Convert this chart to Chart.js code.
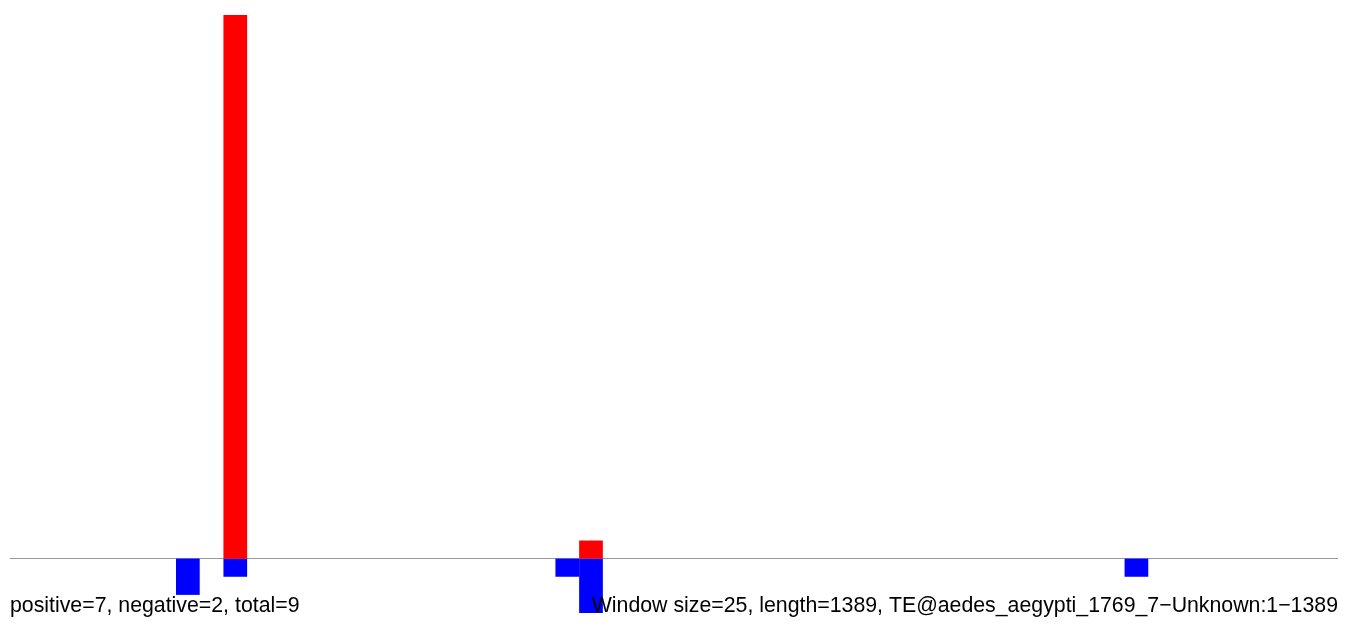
<!DOCTYPE html>
<html>
<head>
<meta charset="utf-8">
<script src="https://cdn.jsdelivr.net/npm/chart.js@4/dist/chart.umd.min.js"></script>
<style>
  html, body { margin: 0; padding: 0; background: #fff; }
  #chart { display: block; }
</style>
</head>
<body>
<canvas id="chart" width="1350" height="624"></canvas>
<script>
// window size 25 over a 1389 bp sequence -> 56 windows
const windowSize = 25;
const seqLength = 1389;
const windowStarts = Array.from({ length: 56 }, (_, i) => i * windowSize + 1);

// reads on the plus strand per window (drawn up, red)
const positiveCounts = [
    0, 0, 0, 0, 0, 0, 0, 0, 0, 30,
    0, 0, 0, 0, 0, 0, 0, 0, 0, 0,
    0, 0, 0, 0, 1, 0, 0, 0, 0, 0,
    0, 0, 0, 0, 0, 0, 0, 0, 0, 0,
    0, 0, 0, 0, 0, 0, 0, 0, 0, 0,
    0, 0, 0, 0, 0, 0
];

// reads on the minus strand per window (drawn down, blue)
const negativeCounts = [
    0, 0, 0, 0, 0, 0, 0, -2, 0, -1,
    0, 0, 0, 0, 0, 0, 0, 0, 0, 0,
    0, 0, 0, -1, -3, 0, 0, 0, 0, 0,
    0, 0, 0, 0, 0, 0, 0, 0, 0, 0,
    0, 0, 0, 0, 0, 0, 0, -1, 0, 0,
    0, 0, 0, 0, 0, 0
];

const leftLabel = 'positive=7, negative=2, total=9';
const rightLabel = 'Window size=25, length=1389, TE@aedes_aegypti_1769_7\u2212Unknown:1\u22121389';

// grey zero line under the bars
const baselinePlugin = {
    id: 'baseline',
    beforeDatasetsDraw(chart) {
        const { ctx, chartArea } = chart;
        const y = Math.floor(chart.scales.y.getPixelForValue(0)) + 0.5;
        ctx.save();
        ctx.strokeStyle = '#999999';
        ctx.lineWidth = 1;
        ctx.beginPath();
        ctx.moveTo(chartArea.left, y);
        ctx.lineTo(chartArea.right, y);
        ctx.stroke();
        ctx.restore();
    }
};

// the two captions on the bottom line, drawn over the bars
const captionPlugin = {
    id: 'captions',
    afterDraw(chart) {
        const { ctx, chartArea } = chart;
        ctx.save();
        ctx.fillStyle = '#000';
        ctx.font = '21.3px "Liberation Sans", Arial, sans-serif';
        ctx.textBaseline = 'alphabetic';
        ctx.textAlign = 'left';
        ctx.fillText(leftLabel, chartArea.left, 612);
        ctx.textAlign = 'right';
        ctx.fillText(rightLabel, chartArea.right, 612);
        ctx.restore();
    }
};

new Chart(document.getElementById('chart'), {
    type: 'bar',
    data: {
        labels: windowStarts,
        datasets: [
            {
                label: 'positive',
                data: positiveCounts,
                backgroundColor: '#ff0000',
                borderWidth: 0
            },
            {
                label: 'negative',
                data: negativeCounts,
                backgroundColor: '#0000ff',
                borderWidth: 0
            }
        ]
    },
    options: {
        responsive: false,
        animation: false,
        devicePixelRatio: 1,
        layout: { padding: { left: 10, right: 12, top: 15, bottom: 11 } },
        datasets: {
            bar: { barPercentage: 1, categoryPercentage: 1, inflateAmount: 0 }
        },
        plugins: {
            legend: { display: false },
            tooltip: { enabled: false },
            title: { display: false }
        },
        scales: {
            x: { stacked: true, display: false },
            y: { stacked: true, display: false, min: -3, max: 30 }
        }
    },
    plugins: [baselinePlugin, captionPlugin]
});
</script>
</body>
</html>
